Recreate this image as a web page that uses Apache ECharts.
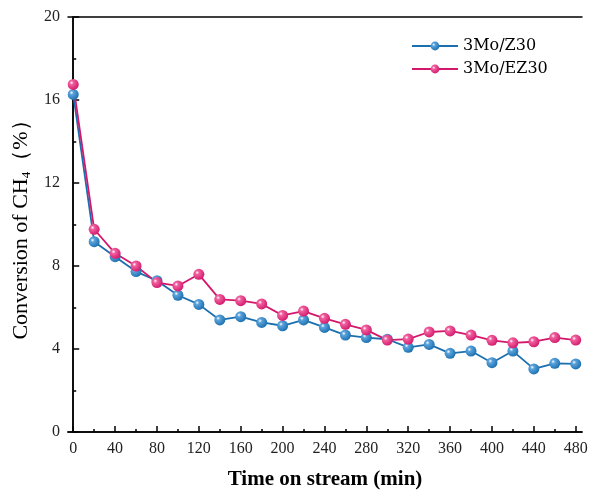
<!DOCTYPE html>
<html lang="en">
<head>
    <meta charset="UTF-8">
    <title>CH4 conversion</title>
    <style>
        html,
        body {
            margin: 0;
            padding: 0;
            width: 100%;
            height: 100%;
            background: #fff;
        }

        #canvas {
            width: 589px;
            height: 492px;
        }
    </style>
</head>
<body>
<div id="canvas"></div>
</body>
<script src="https://cdn.jsdelivr.net/npm/echarts@6.0.0/dist/echarts.min.js"></script>
<script>

    const times = [0, 20, 40, 60, 80, 100, 120, 140, 160, 180, 200, 220, 240,
        260, 280, 300, 320, 340, 360, 380, 400, 420, 440, 460, 480]

    const z30 = [16.27, 9.17, 8.45, 7.73, 7.29, 6.59, 6.15, 5.40, 5.56, 5.28, 5.12, 5.40, 5.04,
        4.67, 4.55, 4.47, 4.08, 4.22, 3.79, 3.90, 3.34, 3.90, 3.04, 3.31, 3.28]

    const ez30 = [16.75, 9.77, 8.61, 8.00, 7.20, 7.04, 7.60, 6.39, 6.33, 6.17, 5.62, 5.83, 5.48,
        5.19, 4.92, 4.43, 4.48, 4.82, 4.87, 4.67, 4.42, 4.30, 4.35, 4.55, 4.43]

    const xMajor = [0, 40, 80, 120, 160, 200, 240, 280, 320, 360, 400, 440, 480]
    const xMinor = [20, 60, 100, 140, 180, 220, 260, 300, 340, 380, 420, 460]

    const serif = '"Liberation Serif", "DejaVu Serif", serif'
    const wideSerif = '"DejaVu Serif", serif'

    function ball(base, light) {
        return {
            type: 'radial', x: 0.35, y: 0.35, r: 0.7,
            colorStops: [
                { offset: 0, color: '#ffffff' },
                { offset: 0.25, color: light },
                { offset: 1, color: base }
            ]
        }
    }

    function makeSeries(name, values, color, light) {
        return {
            name,
            type: 'line',
            data: times.map((t, i) => [t, values[i]]),
            symbol: 'circle',
            symbolSize: 11,
            lineStyle: { color, width: 1.8 },
            itemStyle: { color: ball(color, light) },
            emphasis: { disabled: true }
        }
    }

    const chart = echarts.init(document.getElementById('canvas'))

    const xBase = {
        type: 'value',
        min: -5,
        max: 486,
        splitLine: { show: false },
        axisLine: { lineStyle: { color: '#000', width: 1.5 } }
    }

    chart.setOption({
        animation: false,
        grid: { left: 68, right: 7, top: 17, bottom: 60, outerBoundsMode: 'none' },
        legend: {
            left: 406,
            top: 33,
            orient: 'vertical',
            itemWidth: 46,
            itemHeight: 11,
            itemGap: 7,
            textStyle: { fontFamily: wideSerif, fontSize: 16, color: '#000' },
            data: ['3Mo/Z30', '3Mo/EZ30']
        },
        xAxis: [
            Object.assign({}, xBase, {
                name: 'Time on stream (min)',
                nameLocation: 'middle',
                nameGap: 37,
                nameTextStyle: { fontFamily: serif, fontSize: 21, fontWeight: 'bold', color: '#000' },
                axisTick: { inside: true, length: 6, customValues: xMajor, lineStyle: { color: '#000', width: 1.5 } },
                axisLabel: { customValues: xMajor, fontFamily: serif, fontSize: 16, color: '#222', margin: 9 }
            }),
            Object.assign({}, xBase, {
                position: 'bottom',
                axisTick: { inside: true, length: 3, customValues: xMinor, lineStyle: { color: '#000', width: 1.5 } },
                axisLabel: { show: false }
            }),
            Object.assign({}, xBase, {
                position: 'top',
                axisTick: { show: false },
                axisLabel: { show: false }
            })
        ],
        yAxis: [
            {
                type: 'value',
                min: 0,
                max: 20,
                interval: 4,
                name: '{a|Conversion of CH}{s|4}{a|（%）}',
                nameLocation: 'middle',
                nameGap: 35,
                nameTextStyle: {
                    rich: {
                        a: { fontFamily: serif, fontSize: 22, color: '#000' },
                        s: { fontFamily: serif, fontSize: 13, color: '#000', verticalAlign: 'bottom', padding: [10, 0, 0, 0] }
                    }
                },
                splitLine: { show: false },
                axisLine: { show: true, lineStyle: { color: '#000', width: 1.5 } },
                axisTick: { inside: true, length: 6, lineStyle: { color: '#000', width: 1.5 } },
                minorTick: { show: true, splitNumber: 2, length: 3, lineStyle: { color: '#000', width: 1.5 } },
                axisLabel: { fontFamily: serif, fontSize: 16, color: '#222', margin: 8 }
            },
            {
                type: 'value',
                min: 0,
                max: 20,
                position: 'right',
                splitLine: { show: false },
                axisLine: { show: true, lineStyle: { color: '#000', width: 1.5 } },
                axisTick: { show: false },
                axisLabel: { show: false }
            }
        ],
        series: [
            makeSeries('3Mo/Z30', z30, '#1b6fae', '#5aa3dc'),
            makeSeries('3Mo/EZ30', ez30, '#d3186c', '#f0609e')
        ]
    })
</script>
</html>
